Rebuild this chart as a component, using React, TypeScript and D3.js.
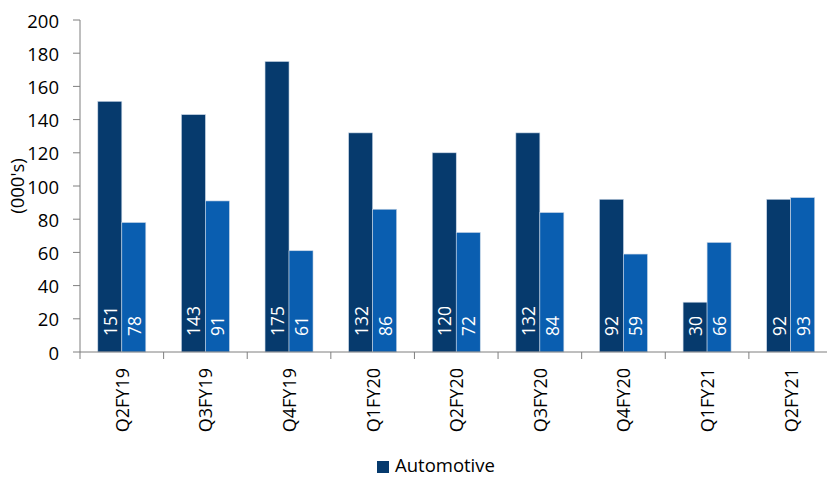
import React from "react";
import * as d3 from "d3";

const categories = ["Q2FY19", "Q3FY19", "Q4FY19", "Q1FY20", "Q2FY20", "Q3FY20", "Q4FY20", "Q1FY21", "Q2FY21"];
const seriesA = [151, 143, 175, 132, 120, 132, 92, 30, 92];
const seriesB = [78, 91, 61, 86, 72, 84, 59, 66, 93];
const yTicks = [0, 20, 40, 60, 80, 100, 120, 140, 160, 180, 200];
const legendLabel = "Automotive";

const W = 827;
const H = 477;
const left = 80;
const right = 832.5;
const top = 20;
const bottom = 352;
const FONT = "'Open Sans', 'Noto Sans', sans-serif";
const DARK = "#063a6d";
const LIGHT = "#0a5eb0";

export default function App() {
  const x = d3.scaleBand<string>().domain(categories).range([left, right]).paddingInner(0).paddingOuter(0);
  const y = d3.scaleLinear().domain([0, 200]).range([bottom, top]);
  const bw = x.bandwidth();
  const barW = bw * 0.287;
  const pad = (bw - 2 * barW) / 2;

  const series = [
    { values: seriesA, color: DARK, offset: 0 },
    { values: seriesB, color: LIGHT, offset: 1 },
  ];

  return (
    <svg width={W} height={H} style={{ position: "absolute", left: 0, top: 0, background: "#fff" }} fontFamily={FONT}>
      {series.map((s, si) =>
        s.values.map((v, i) => {
          const bx = (x(categories[i]) as number) + pad + s.offset * barW;
          const cx = bx + barW / 2;
          return (
            <g key={`${si}-${i}`}>
              <rect x={bx} y={y(v)} width={barW} height={bottom - y(v)} fill={s.color} stroke="#c9d6e6" strokeWidth={0.6} />
              <text
                transform={`translate(${cx},${bottom - 16}) rotate(-90)`}
                fill="#fff"
                fontSize={17.5}
                dominantBaseline="central"
                textAnchor="start"
              >
                {v}
              </text>
            </g>
          );
        })
      )}
      {/* y axis */}
      <line x1={left} x2={left} y1={top} y2={bottom} stroke="#7f7f7f" strokeWidth={1} />
      {yTicks.map((t) => (
        <g key={t}>
          <line x1={left - 7} x2={left} y1={y(t)} y2={y(t)} stroke="#7f7f7f" strokeWidth={1} />
          <text x={left - 21} y={y(t)} textAnchor="end" dominantBaseline="central" fontSize={18.5} fill="#000">
            {t}
          </text>
        </g>
      ))}
      {/* x axis */}
      <line x1={left} x2={W} y1={bottom} y2={bottom} stroke="#7f7f7f" strokeWidth={1} />
      {categories.map((c, i) => (
        <line key={`t${i}`} x1={left + i * bw} x2={left + i * bw} y1={bottom} y2={bottom + 7} stroke="#7f7f7f" strokeWidth={1} />
      ))}
      {categories.map((c) => (
        <text
          key={c}
          transform={`translate(${(x(c) as number) + bw / 2},${368}) rotate(-90)`}
          textAnchor="end"
          dominantBaseline="central"
          fontSize={18}
          fill="#000"
        >
          {c}
        </text>
      ))}
      <text transform={`translate(16,186) rotate(-90)`} textAnchor="middle" dominantBaseline="central" fontSize={18.5} fill="#000">
        (000's)
      </text>
      {/* legend */}
      <rect x={377} y={461} width={12} height={12} fill={DARK} />
      <text x={395} y={472} fontSize={18.5} fill="#000">
        {legendLabel}
      </text>
    </svg>
  );
}
